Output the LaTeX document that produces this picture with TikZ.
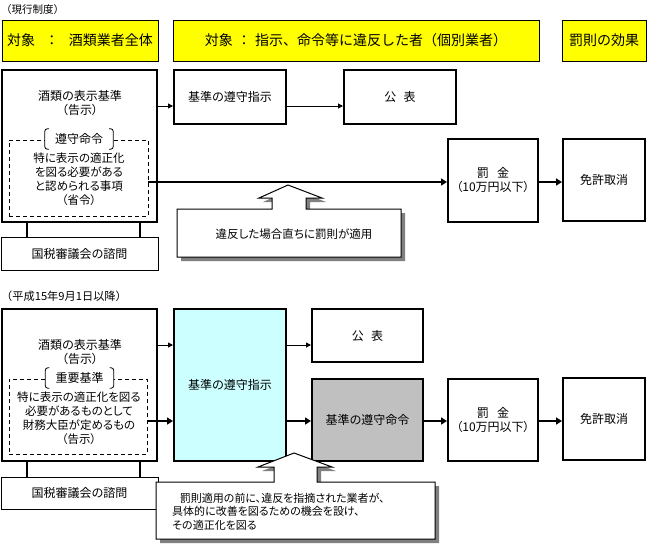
\documentclass[tikz,border=0pt]{standalone}
\usepackage{fontspec}
\setmainfont{Noto Sans CJK JP}[RawFeature=+palt]
\newfontfamily\jpwide{Noto Sans CJK JP}
\usetikzlibrary{arrows.meta}
\definecolor{hdryellow}{RGB}{255,255,0}
\definecolor{cyanfill}{RGB}{204,255,255}
\definecolor{grayfill}{RGB}{192,192,192}
\definecolor{shadowgray}{RGB}{128,128,128}
\begin{document}
\begin{tikzpicture}[x=1pt,y=-1pt,
  hdr/.style={draw,fill=hdryellow,line width=1pt,inner sep=0pt,font=\jpwide\fontsize{14}{16}\selectfont},
  thickbox/.style={draw,line width=2pt,inner sep=0pt},
  thinbox/.style={draw,line width=1pt,inner sep=0pt},
  dashbox/.style={draw,line width=0.8pt,dash pattern=on 4pt off 3pt,inner sep=0pt},
  txt/.style={align=center,inner sep=0pt,font=\fontsize{12}{14}\selectfont},
  stxt/.style={align=center,inner sep=0pt,font=\fontsize{11.5}{14}\selectfont},
  thinarr/.style={line width=1pt,-{Triangle[length=5pt,width=5pt]}},
  thickarr/.style={line width=2pt,-{Triangle[length=6pt,width=7pt]}},
  tick/.style={line width=2pt},
  lab/.style={fill=white,inner sep=0pt,minimum width=68pt,minimum height=20pt,font=\fontsize{12}{14}\selectfont},
  bracket/.style={line width=0.8pt,rounded corners=2.5pt},
  calloutbody/.style={draw,fill=white,line width=1pt}
]
\useasboundingbox (0,0) rectangle (647,546);

% ---------- headers ----------
\node[anchor=west,inner sep=0pt,font=\jpwide\fontsize{10.5}{12}\selectfont] (cap1) at (1,9.5) {（現行制度）};
\node[hdr,minimum width=156pt,minimum height=41pt] (h1) at (80,40.5) {対象\hspace{0.7em}：\hspace{0.7em}酒類業者全体};
\node[hdr,minimum width=366pt,minimum height=41pt] (h2) at (356,40.5) {対象\hspace{0.3em}：\hspace{0.3em}指示、命令等に違反した者（個別業者）};
\node[hdr,minimum width=84pt,minimum height=41pt] (h3) at (604,40.5) {罰則の効果};

% ---------- top section ----------
\node[thickbox,minimum width=155pt,minimum height=152pt] (big1) at (79.5,146) {};
\node[txt] (big1t) at (80,103) {酒類の表示基準\\（告示）};
\node[dashbox,minimum width=139pt,minimum height=76pt] (dash1) at (78.5,178) {};
\node[lab] (lab1) at (79,139) {遵守命令};
\draw[bracket] ([xshift=4pt]lab1.north west) -- (lab1.north west) -- (lab1.south west) -- ([xshift=4pt]lab1.south west);
\draw[bracket] ([xshift=-4pt]lab1.north east) -- (lab1.north east) -- (lab1.south east) -- ([xshift=-4pt]lab1.south east);
\node[stxt] (dash1t) at (79,179) {特に表示の適正化\\を図る必要がある\\と認められる事項\\（省令）};
\node[thinbox,minimum width=157pt,minimum height=33pt,txt] (c1) at (79.5,253.5) {国税審議会の諮問};

\node[thickbox,txt,minimum width=112pt,minimum height=54pt] (shiji1) at (230,97) {基準の遵守指示};
\node[thickbox,txt,minimum width=112pt,minimum height=54pt] (kohyo1) at (400,97) {公\hspace{0.6em}表};
\node[thickbox,txt,minimum width=90pt,minimum height=83pt] (bak1) at (493,180.5) {罰\hspace{0.7em}金\\（10万円以下）};
\node[thickbox,txt,minimum width=82pt,minimum height=82pt] (men1) at (604,180) {免許取消};

\coordinate (xa) at (27,0);
\coordinate (xb) at (140,0);
\draw[tick] (big1.south -| xa) -- (c1.north -| xa);
\draw[tick] (big1.south -| xb) -- (c1.north -| xb);

\coordinate (ya) at (0,106);
\coordinate (yb) at (0,182);
\draw[thinarr] (big1.east |- ya) -- (shiji1.west |- ya);
\draw[thinarr] (shiji1.east |- ya) -- (kohyo1.west |- ya);
\draw[thickarr] (dash1.east |- yb) -- (bak1.west |- yb);
\draw[thickarr] (bak1.east |- yb) -- (men1.west |- yb);

% callout 1
\begin{scope}[shift={(4,4)}]
\fill[shadowgray] (177,209) -- (272,209) -- (272,198) -- (259,198) -- (288,185) -- (322,198) -- (306,198) -- (306,209) -- (401,209) -- (401,257) -- (177,257) -- cycle;
\end{scope}
\draw[calloutbody] (177,209) -- (272,209) -- (272,198) -- (259,198) -- (288,185) -- (322,198) -- (306,198) -- (306,209) -- (401,209) -- (401,257) -- (177,257) -- cycle;
\node[inner sep=0pt,font=\fontsize{11.5}{14}\selectfont] (co1t) at (294,234) {違反した場合直ちに罰則が適用};

% ---------- bottom section ----------
\node[anchor=west,inner sep=0pt,font=\jpwide\fontsize{11.2}{13}\selectfont] (cap2) at (1,296.5) {（平成15年9月1日以降）};
\node[thickbox,minimum width=155pt,minimum height=152pt] (big2) at (79.5,385) {};
\node[txt] (big2t) at (80,351.5) {酒類の表示基準\\（告示）};
\node[dashbox,minimum width=138pt,minimum height=75pt] (dash2) at (78,416.5) {};
\node[lab] (lab2) at (79.5,378) {重要基準};
\draw[bracket] ([xshift=4pt]lab2.north west) -- (lab2.north west) -- (lab2.south west) -- ([xshift=4pt]lab2.south west);
\draw[bracket] ([xshift=-4pt]lab2.north east) -- (lab2.north east) -- (lab2.south east) -- ([xshift=-4pt]lab2.south east);
\node[stxt] (dash2t) at (79,418) {特に表示の適正化を図る\\必要があるものとして\\財務大臣が定めるもの\\（告示）};
\node[thinbox,minimum width=157pt,minimum height=32pt,txt] (c2) at (79.5,493) {国税審議会の諮問};

\node[thickbox,fill=cyanfill,txt,minimum width=112pt,minimum height=152pt] (shiji2) at (230,385) {基準の遵守指示};
\node[thickbox,txt,minimum width=111pt,minimum height=53pt] (kohyo2) at (367.5,335.5) {公\hspace{0.6em}表};
\node[thickbox,fill=grayfill,txt,minimum width=111pt,minimum height=82pt] (meirei2) at (367.5,420) {基準の遵守命令};
\node[thickbox,txt,minimum width=90pt,minimum height=82pt] (bak2) at (493,420) {罰\hspace{0.7em}金\\（10万円以下）};
\node[thickbox,txt,minimum width=82pt,minimum height=82pt] (men2) at (604,419) {免許取消};

\draw[tick] (big2.south -| xa) -- (c2.north -| xa);
\draw[tick] (big2.south -| xb) -- (c2.north -| xb);

\coordinate (yc) at (0,345);
\coordinate (yd) at (0,421);
\draw[thinarr] (big2.east |- yc) -- (shiji2.west |- yc);
\draw[thickarr] (dash2.east |- yd) -- (shiji2.west |- yd);
\draw[thinarr] (shiji2.east |- yc) -- (kohyo2.west |- yc);
\draw[thickarr] (shiji2.east |- yd) -- (meirei2.west |- yd);
\draw[thickarr] (meirei2.east |- yd) -- (bak2.west |- yd);
\draw[thickarr] (bak2.east |- yd) -- (men2.west |- yd);

% callout 2
\begin{scope}[shift={(4,4)}]
\fill[shadowgray] (156,482) -- (274,482) -- (274,467) -- (258,467) -- (294,453) -- (332,467) -- (317,467) -- (317,482) -- (435,482) -- (435,539) -- (156,539) -- cycle;
\end{scope}
\draw[calloutbody] (156,482) -- (274,482) -- (274,467) -- (258,467) -- (294,453) -- (332,467) -- (317,467) -- (317,482) -- (435,482) -- (435,539) -- (156,539) -- cycle;
\node[anchor=west,align=left,inner sep=0pt,font=\fontsize{11}{13.5}\selectfont] (co2t) at (172,511.5) {\hspace{0.7em}罰則適用の前に、違反を指摘された業者が、\\具体的に改善を図るための機会を設け、\\その適正化を図る};
\end{tikzpicture}
\end{document}
